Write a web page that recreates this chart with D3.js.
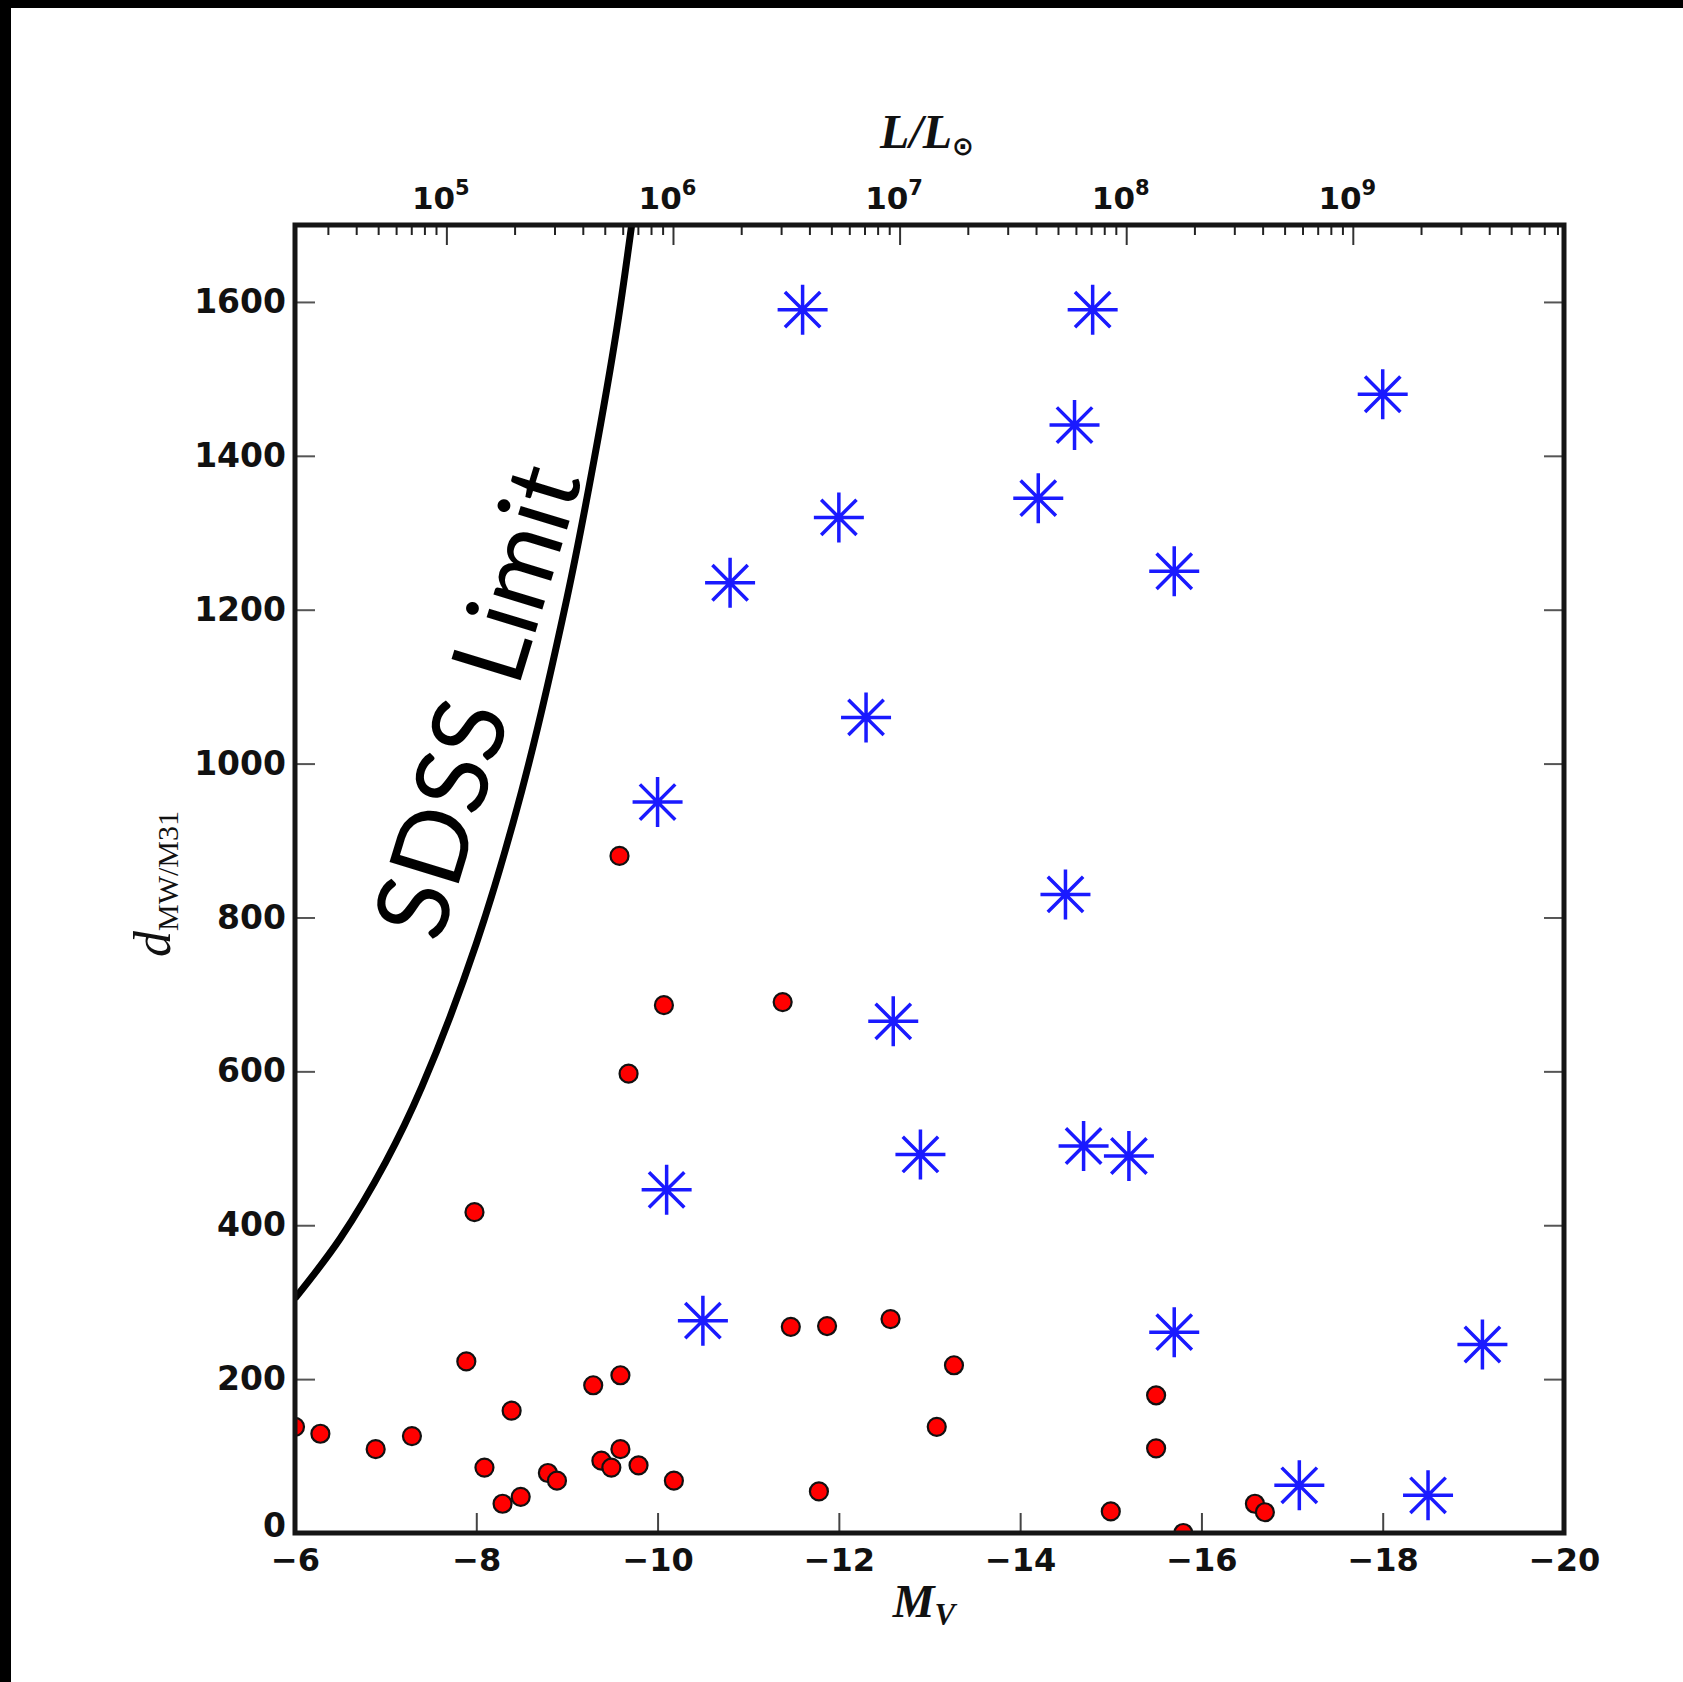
<!DOCTYPE html>
<html>
<head>
<meta charset="utf-8">
<script src="https://cdn.jsdelivr.net/npm/d3@7"></script>
<style>
  body { margin: 0; background: #fff; }
</style>
</head>
<body>
<div class="container"></div>
<script>
// page size and plot box
const width = 1683;
const height = 1682;
const margin = { top: 225, right: 119, bottom: 149, left: 295 };

// absolute V magnitude of the sun, for the L/Lsun axis on top
const MSUN = 4.83;

// red dots: absolute magnitude and distance
const dotMv = [-6.0, -6.28, -6.89, -7.29, -7.89, -7.98, -8.09, -8.29, -8.39, -8.49,
  -8.79, -8.89, -9.29, -9.38, -9.49, -9.59, -9.59, -9.58, -9.68, -9.79,
  -10.07, -10.18, -11.38, -11.47, -11.78, -11.87, -12.57, -13.08, -13.27, -15.0,
  -15.5, -15.5, -15.8, -16.59, -16.7];
const dotDist = [138, 129, 109, 126, 223, 417, 85, 38, 159, 47,
  78, 68, 192, 94, 85, 205, 109, 880, 597, 88,
  686, 68, 690, 268, 54, 269, 278, 138, 218, 28,
  179, 110, 0, 38, 27];

// blue stars
const starMv = [-11.6, -14.8, -18.0, -14.6, -14.2, -12.0, -10.8, -15.7, -12.3, -10.0,
  -14.5, -12.6, -12.9, -14.7, -15.2, -10.1, -10.5, -15.7, -19.1, -17.08, -18.5];
const starDist = [1590, 1590, 1480, 1440, 1345, 1320, 1235, 1250, 1060, 950,
  830, 665, 492, 503, 490, 446, 276, 261, 245, 62, 49];

// SDSS limit curve
const limitMv = [-6.0, -6.5, -7.0, -7.4, -8.0, -8.5, -9.0, -9.3, -9.55, -9.72];
const limitDist = [305, 383, 482, 580, 766, 964, 1215, 1395, 1565, 1705];

// tick values
const xTicks = [-6, -8, -10, -12, -14, -16, -18, -20];
const yTicks = [0, 200, 400, 600, 800, 1000, 1200, 1400, 1600];
const lumTicks = [1e5, 1e6, 1e7, 1e8, 1e9];

const svg = d3.select(".container")
  .append("svg")
  .attr("width", width)
  .attr("height", height)
  .style("display", "block");

svg.append("rect").attr("width", width).attr("height", height).attr("fill", "#fff");
// black strips along the top and left edge of the picture
svg.append("rect").attr("width", width).attr("height", 8).attr("fill", "#000");
svg.append("rect").attr("width", 11).attr("height", height).attr("fill", "#000");

const x = d3.scaleLinear()
  .domain([-6, -20])
  .range([margin.left, width - margin.right]);

const y = d3.scaleLinear()
  .domain([0, 1700])
  .range([height - margin.bottom, margin.top]);

const lum = mv => Math.pow(10, 0.4 * (MSUN - mv));
const xTop = d3.scaleLog()
  .domain([lum(-6), lum(-20)])
  .range([margin.left, width - margin.right]);

svg.append("clipPath").attr("id", "plot")
  .append("rect")
  .attr("x", margin.left).attr("y", margin.top)
  .attr("width", width - margin.left - margin.right)
  .attr("height", height - margin.top - margin.bottom);

const tickFont = "'DejaVu Sans', sans-serif";

// bottom axis
svg.append("g")
  .attr("transform", `translate(0, ${height - margin.bottom})`)
  .call(d3.axisBottom(x).tickValues(xTicks).tickSize(-20).tickSizeOuter(0).tickPadding(15))
  .call(g => g.select(".domain").remove())
  .call(g => g.selectAll("line").attr("stroke", "#444").attr("stroke-width", 2))
  .call(g => g.selectAll("text").attr("font-size", 32).attr("font-weight", "bold")
    .attr("font-family", tickFont).attr("fill", "#111"));

// left axis
svg.append("g")
  .attr("transform", `translate(${margin.left}, 0)`)
  .call(d3.axisLeft(y).tickValues(yTicks).tickFormat(d3.format("d"))
    .tickSize(-20).tickSizeOuter(0).tickPadding(9))
  .call(g => g.select(".domain").remove())
  .call(g => g.selectAll("line").attr("stroke", "#555").attr("stroke-width", 2))
  .call(g => g.selectAll("text").attr("font-size", 33).attr("font-weight", "bold")
    .attr("font-family", tickFont).attr("fill", "#111"))
  // lift the "0" a little so it clears the "-6" below it
  .call(g => g.selectAll("text").filter(d => d === 0).attr("dy", "0.12em"));

// right axis, ticks only
svg.append("g")
  .attr("transform", `translate(${width - margin.right}, 0)`)
  .call(d3.axisRight(y).tickValues(yTicks.slice(1)).tickSize(-20).tickSizeOuter(0).tickFormat(""))
  .call(g => g.select(".domain").remove())
  .call(g => g.selectAll("line").attr("stroke", "#555").attr("stroke-width", 2));

// top axis: minor log ticks
const minorTicks = xTop.ticks().filter(v => !lumTicks.includes(v));
svg.append("g")
  .attr("transform", `translate(0, ${margin.top})`)
  .call(d3.axisTop(xTop).tickValues(minorTicks).tickSize(-10).tickSizeOuter(0).tickFormat(""))
  .call(g => g.select(".domain").remove())
  .call(g => g.selectAll("line").attr("stroke", "#222").attr("stroke-width", 2));

// top axis: decades with 10^n labels
svg.append("g")
  .attr("transform", `translate(0, ${margin.top})`)
  .call(d3.axisTop(xTop).tickValues(lumTicks).tickSize(-20).tickSizeOuter(0).tickPadding(16))
  .call(g => g.select(".domain").remove())
  .call(g => g.selectAll("line").attr("stroke", "#333").attr("stroke-width", 2))
  .call(g => g.selectAll("text")
    .attr("font-family", tickFont).attr("font-weight", "bold").attr("fill", "#111")
    .attr("dx", -6)
    .text(null)
    .each(function(d) {
      const t = d3.select(this);
      t.append("tspan").attr("font-size", 31).text("10");
      t.append("tspan").attr("font-size", 21).attr("dy", -14).text(Math.round(Math.log10(d)));
    }));

// data layer
const plot = svg.append("g").attr("clip-path", "url(#plot)");

const line = d3.line()
  .x((d, i) => x(limitMv[i]))
  .y(d => y(d))
  .curve(d3.curveCatmullRom.alpha(0.5));

plot.append("path")
  .datum(limitDist)
  .attr("d", line)
  .attr("fill", "none")
  .attr("stroke", "#000")
  .attr("stroke-width", 7);

plot.append("g")
  .selectAll("circle")
  .data(dotDist)
  .join("circle")
  .attr("cx", (d, i) => x(dotMv[i]))
  .attr("cy", d => y(d))
  .attr("r", 9)
  .attr("fill", "#f00")
  .attr("stroke", "#111")
  .attr("stroke-width", 2.2);

// 8-spoke asterisk marker
const asterisk = {
  draw(context, size) {
    const r = Math.sqrt(size) / 2;
    for (let k = 0; k < 4; k++) {
      const a = k * Math.PI / 4;
      context.moveTo(r * Math.cos(a), r * Math.sin(a));
      context.lineTo(-r * Math.cos(a), -r * Math.sin(a));
    }
  }
};

plot.append("g")
  .selectAll("path")
  .data(starDist)
  .join("path")
  .attr("transform", (d, i) => `translate(${x(starMv[i])}, ${y(d)})`)
  .attr("d", d3.symbol().type(asterisk).size(2500))
  .attr("fill", "none")
  .attr("stroke", "#1a1aff")
  .attr("stroke-width", 3.5);

// frame
svg.append("rect")
  .attr("x", margin.left).attr("y", margin.top)
  .attr("width", width - margin.left - margin.right)
  .attr("height", height - margin.top - margin.bottom)
  .attr("fill", "none")
  .attr("stroke", "#151515")
  .attr("stroke-width", 5);

// SDSS Limit label along the curve
svg.append("text")
  .attr("transform", `translate(${x(-7.6)}, ${y(765)}) rotate(-73)`)
  .attr("font-family", "Lato, 'Open Sans', sans-serif")
  .attr("font-size", 101)
  .attr("fill", "#000")
  .text("SDSS Limit");

// axis titles
const xLabel = svg.append("text")
  .attr("x", 924).attr("y", 1617)
  .attr("text-anchor", "middle")
  .attr("font-family", "'Liberation Serif', serif")
  .attr("font-weight", "bold")
  .attr("fill", "#111");
xLabel.append("tspan").attr("font-style", "italic").attr("font-size", 47).text("M");
xLabel.append("tspan").attr("font-style", "italic").attr("font-size", 31).attr("dy", 8).text("V");

const yLabel = svg.append("text")
  .attr("transform", "translate(170, 884) rotate(-90)")
  .attr("text-anchor", "middle")
  .attr("font-family", "'Liberation Serif', serif")
  .attr("fill", "#111");
yLabel.append("tspan").attr("font-style", "italic").attr("font-size", 52).text("d");
yLabel.append("tspan").attr("font-size", 30).attr("dy", 8).text("MW/M31");

const topLabel = svg.append("text")
  .attr("x", 927).attr("y", 148)
  .attr("text-anchor", "middle")
  .attr("font-family", "'Liberation Serif', serif")
  .attr("font-weight", "bold")
  .attr("fill", "#111");
topLabel.append("tspan").attr("font-style", "italic").attr("font-size", 48).text("L/L");
topLabel.append("tspan").attr("font-family", "'DejaVu Sans', sans-serif").attr("font-size", 26).attr("dy", 7).text("⊙");
</script>
</body>
</html>
